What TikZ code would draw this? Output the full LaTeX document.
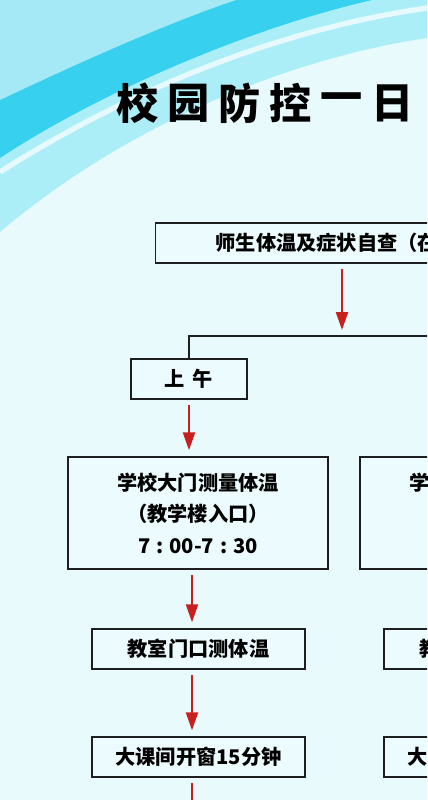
\documentclass[tikz,border=0pt]{standalone}
\usepackage{fontspec}
\newfontfamily\cjk{Noto Sans CJK SC}
\newfontfamily\cjkpunct{Noto Sans CJK TC}
\newcommand{\lp}{{\cjkpunct （}}
\newcommand{\rp}{{\cjkpunct ）}}
\newcommand{\tcolon}{\hspace{0.3em}:\hspace{0.3em}}
\usetikzlibrary{arrows.meta}
\definecolor{bgpale}{RGB}{232,250,252}
\definecolor{skytop}{RGB}{166,233,246}
\definecolor{skydeep}{RGB}{55,209,239}
\definecolor{skylight}{RGB}{172,238,248}
\definecolor{boxfill}{RGB}{236,251,253}
\definecolor{boxline}{RGB}{30,30,30}
\definecolor{arrowred}{RGB}{200,32,30}

\begin{document}
\begin{tikzpicture}[x=0.02cm, y=-0.02cm, >={Triangle[length=0.36cm, width=0.24cm]},
	box/.style={draw=boxline, line width=0.8pt, fill=boxfill, inner sep=0pt, align=center, font=\cjk\bfseries\fontsize{11.5}{17.9}\selectfont},
	titlechar/.style={font=\cjk\bfseries\fontsize{24}{24}\selectfont, inner sep=0pt},
	flow/.style={->, draw=arrowred, line width=1.3pt, shorten <=0.1cm, shorten >=0.12cm},
	link/.style={draw=boxline, line width=0.8pt}]
	\useasboundingbox (0,0) rectangle (427,800);
	\clip (0,0) rectangle (427,800);
	\fill[bgpale] (0,0) rectangle (427,800);
	\fill[skylight] (0,0) -- (0,232) .. controls (120,130) and (280,60) .. (427,38) -- (427,0) -- cycle;
	\fill[skydeep] (0,0) -- (0,158) .. controls (100,92) and (250,28) .. (372,0) -- cycle;
	\fill[skytop] (0,0) -- (0,100) .. controls (80,62) and (170,22) .. (236,0) -- cycle;
	\draw[white, line width=3pt, opacity=0.7] (0,172) .. controls (110,102) and (260,32) .. (427,8);
	\foreach \ch [count=\i] in {校,园,防,控,一,日}
		\node[titlechar] (title\i) at (87+51*\i,103) {\ch};
	\node[box, anchor=west, minimum height=0.8cm, inner xsep=1.2cm] (check) at (155,243) {师生体温及症状自查\lp 在};
	\coordinate (split) at (342,336);
	\coordinate (rightend) at (440,336);
	\coordinate (axis) at (192,0);
	\coordinate (next) at (192,840);
	\node[box, minimum width=2.32cm, minimum height=0.8cm] (am) at (189,379) {上\hspace{0.16cm}午};
	\node[box, minimum width=5.2cm, minimum height=2.24cm] (gate) at (198,513) {学校大门测量体温\\\lp 教学楼入口\rp\\7\tcolon 00-7\tcolon 30};
	\node[box, minimum width=5.2cm, minimum height=2.24cm] (pmgate) at (490,513) {学\phantom{校大门测量体温}\\\phantom{\lp 教学楼入口\rp}\\\phantom{7\tcolon 00-7\tcolon 30}};
	\node[box, minimum width=4.26cm, minimum height=0.8cm] (door) at (198.5,649) {教室门口测体温};
	\node[box, minimum width=4.26cm, minimum height=0.8cm] (pmdoor) at (490.5,649) {教\phantom{室门口测体温}};
	\node[box, minimum width=4.26cm, minimum height=0.8cm] (brk) at (198.5,757) {大课间开窗15分钟};
	\node[box, minimum width=4.26cm, minimum height=0.8cm] (pmbrk) at (490.5,757) {大\phantom{课间开窗15分钟}};
	\draw[flow] (check.south -| split) -- (split);
	\draw[link] (am.north) |- (rightend);
	\draw[flow] (am.south) -- (am.south |- gate.north);
	\draw[flow] (gate.south -| axis) -- (door.north -| axis);
	\draw[flow] (door.south -| axis) -- (brk.north -| axis);
	\draw[flow] (brk.south -| axis) -- (next);
\end{tikzpicture}
\end{document}
